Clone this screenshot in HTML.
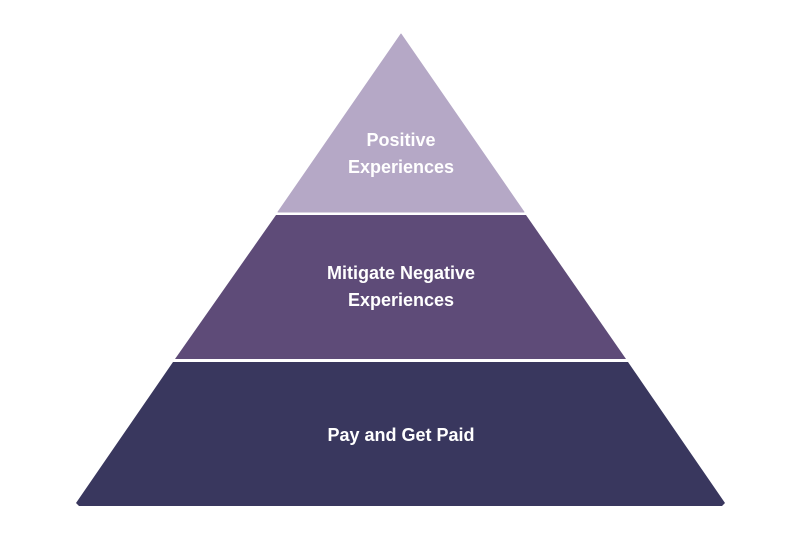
<!DOCTYPE html>
<html><head><style>
html,body{margin:0;padding:0;background:#fff;width:800px;height:547px;overflow:hidden}
svg{display:block}
text{font-family:"Liberation Sans",sans-serif;font-weight:bold;font-size:18px;fill:#fff;text-anchor:middle}
</style></head><body>
<svg width="800" height="547" viewBox="0 0 800 547">
<polygon points="401,34 524,212 278,212" fill="#b5a8c6" stroke="#b5a8c6" stroke-width="1" stroke-linejoin="round"/>
<polygon points="276,215 526,215 626,359 175,359" fill="#5e4b78"/>
<polygon points="173,362 628,362 725,503 722,506 79,506 76,503" fill="#39375e"/>
<text x="401" y="146">Positive</text>
<text x="401" y="173">Experiences</text>
<text x="401" y="279">Mitigate Negative</text>
<text x="401" y="306">Experiences</text>
<text x="401" y="441">Pay and Get Paid</text>
</svg>
</body></html>
